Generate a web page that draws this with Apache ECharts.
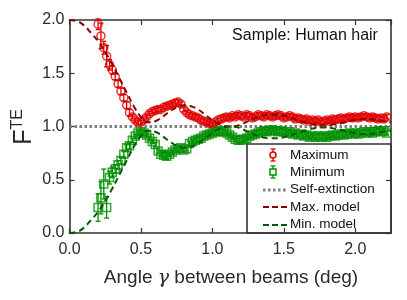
<!DOCTYPE html>
<html><head><meta charset="utf-8">
<script src="https://cdn.jsdelivr.net/npm/echarts@6/dist/echarts.min.js"></script>
<style>html,body{margin:0;padding:0;background:#fff}#c{width:407px;height:300px}</style>
</head><body><div id="c"></div>
<script>
const angle = [0.20,0.22,0.24,0.26,0.28,0.30,0.32,0.34,0.36,0.38,0.40,0.42,0.44,0.46,0.48,0.50,0.52,0.54,0.56,0.58,
0.60,0.62,0.64,0.66,0.68,0.70,0.72,0.74,0.76,0.78,0.80,0.82,0.84,0.86,0.88,0.90,0.92,0.94,0.96,0.98,
1.00,1.02,1.04,1.06,1.08,1.10,1.12,1.14,1.16,1.18,1.20,1.22,1.24,1.26,1.28,1.30,1.32,1.34,1.36,1.38,
1.40,1.42,1.44,1.46,1.48,1.50,1.52,1.54,1.56,1.58,1.60,1.62,1.64,1.66,1.68,1.70,1.72,1.74,1.76,1.78,
1.80,1.82,1.84,1.86,1.88,1.90,1.92,1.94,1.96,1.98,2.00,2.02,2.04,2.06,2.08,2.10,2.12,2.14,2.16,2.18,2.20,2.22];
const maxY = [1.96,1.85,1.74,1.66,1.58,1.53,1.47,1.40,1.33,1.27,1.20,1.13,1.09,1.06,1.04,1.04,1.06,1.09,1.12,1.14,
1.15,1.16,1.16,1.18,1.19,1.20,1.21,1.22,1.23,1.21,1.16,1.13,1.11,1.10,1.09,1.08,1.06,1.05,1.04,1.03,
1.02,1.04,1.06,1.07,1.08,1.09,1.08,1.10,1.09,1.11,1.10,1.09,1.11,1.10,1.08,1.09,1.11,1.10,1.09,1.11,
1.10,1.09,1.10,1.11,1.10,1.08,1.09,1.10,1.09,1.07,1.08,1.07,1.06,1.07,1.05,1.06,1.05,1.06,1.04,1.05,
1.06,1.05,1.07,1.06,1.07,1.08,1.07,1.08,1.09,1.08,1.09,1.08,1.09,1.10,1.09,1.08,1.09,1.08,1.07,1.08,1.07,1.09];
const maxErr = [0.05,0.12,0.06,0.10,0.05,0.04,0.03,0.03,0.03,0.03,0.03,0.03,0.02,0.02,0.02,0.02,0.02,0.02,0.02,0.02,
0.02,0.02,0.02,0.02,0.02,0.02,0.02,0.03,0.02,0.02,0.02,0.02,0.02,0.02,0.02,0.02,0.02,0.02,0.02,0.02,
0.02,0.02,0.02,0.02,0.02,0.02,0.02,0.02,0.02,0.02,0.02,0.02,0.02,0.02,0.02,0.02,0.02,0.02,0.02,0.02,
0.02,0.02,0.02,0.02,0.02,0.02,0.02,0.02,0.02,0.02,0.02,0.02,0.02,0.02,0.02,0.02,0.02,0.02,0.02,0.02,
0.02,0.02,0.02,0.02,0.02,0.02,0.02,0.02,0.02,0.02,0.02,0.02,0.02,0.02,0.02,0.02,0.02,0.02,0.02,0.02,0.02,0.02];
const minY = [0.24,0.33,0.46,0.24,0.52,0.57,0.60,0.64,0.68,0.74,0.80,0.82,0.87,0.91,0.94,0.95,0.94,0.92,0.89,0.86,
0.83,0.77,0.74,0.73,0.72,0.74,0.76,0.78,0.79,0.80,0.78,0.79,0.84,0.86,0.87,0.88,0.89,0.91,0.92,0.93,
0.94,0.95,0.95,0.96,0.95,0.94,0.92,0.90,0.88,0.87,0.87,0.88,0.89,0.91,0.92,0.93,0.94,0.95,0.96,0.95,
0.96,0.97,0.96,0.95,0.96,0.95,0.94,0.95,0.93,0.94,0.92,0.93,0.91,0.92,0.90,0.91,0.90,0.91,0.90,0.91,
0.90,0.91,0.92,0.91,0.92,0.93,0.92,0.93,0.94,0.93,0.94,0.93,0.94,0.95,0.94,0.95,0.94,0.95,0.96,0.95,0.96,0.94];
const minErr = [0.13,0.15,0.14,0.10,0.06,0.05,0.04,0.04,0.03,0.03,0.03,0.03,0.02,0.02,0.02,0.02,0.02,0.02,0.02,0.02,
0.02,0.02,0.02,0.02,0.03,0.02,0.02,0.02,0.02,0.02,0.02,0.02,0.02,0.02,0.02,0.02,0.02,0.02,0.02,0.02,
0.02,0.02,0.02,0.02,0.02,0.02,0.02,0.02,0.02,0.02,0.02,0.02,0.02,0.02,0.02,0.02,0.02,0.02,0.02,0.02,
0.02,0.02,0.02,0.02,0.02,0.02,0.02,0.02,0.02,0.02,0.02,0.02,0.02,0.02,0.02,0.02,0.02,0.02,0.02,0.02,
0.02,0.02,0.02,0.02,0.02,0.02,0.02,0.02,0.02,0.02,0.02,0.02,0.02,0.02,0.02,0.02,0.02,0.02,0.02,0.02,0.02,0.02];
const modelX = [0,0.05,0.10,0.15,0.20,0.25,0.30,0.35,0.40,0.45,0.50,0.55,0.60,0.65,0.70,0.75,0.80,0.85,0.90,0.95,
1.00,1.05,1.10,1.15,1.20,1.25,1.30,1.35,1.40,1.45,1.50,1.55,1.60,1.65,1.70,1.75,1.80,1.85,1.90,1.95,2.00,2.05,2.10,2.15,2.20,2.25];
const maxModel = [2.00,1.99,1.95,1.88,1.80,1.70,1.58,1.45,1.32,1.19,1.09,1.04,1.05,1.09,1.14,1.18,1.20,1.19,1.16,1.11,
1.06,1.02,1.00,1.00,1.02,1.05,1.08,1.10,1.11,1.11,1.10,1.08,1.06,1.04,1.02,1.01,1.01,1.02,1.03,1.05,1.06,1.07,1.07,1.06,1.05,1.04];
const minModel = [0.00,0.01,0.05,0.12,0.20,0.30,0.42,0.55,0.68,0.81,0.91,0.96,0.95,0.91,0.86,0.82,0.80,0.81,0.84,0.89,
0.94,0.98,1.00,1.00,0.98,0.95,0.92,0.90,0.89,0.89,0.90,0.92,0.94,0.96,0.98,0.99,0.99,0.98,0.97,0.95,0.94,0.93,0.93,0.94,0.95,0.96];
const selfExt = [[0,1],[2.25,1]];
const xTicks = [0.0,0.5,1.0,1.5,2.0];
const yTicks = [0.0,0.5,1.0,1.5,2.0];

const RED = '#e00000', GREEN = '#009000', DRED = '#8c0000', DGREEN = '#005a00', GRAY = '#808080';
const zip = (xs, ys, es) => xs.map((x, i) => es ? [x, ys[i], es[i]] : [x, ys[i]]);

function errRender(color) {
  return function (params, api) {
    const x = api.value(0), y = api.value(1), e = api.value(2);
    const t = api.coord([x, y + e]), b = api.coord([x, y - e]);
    const c = 2.5;
    const st = { stroke: color, lineWidth: 1.3 };
    return { type: 'group', children: [
      { type: 'line', shape: { x1: t[0], y1: t[1], x2: b[0], y2: b[1] }, style: st },
      { type: 'line', shape: { x1: t[0] - c, y1: t[1], x2: t[0] + c, y2: t[1] }, style: st },
      { type: 'line', shape: { x1: b[0] - c, y1: b[1], x2: b[0] + c, y2: b[1] }, style: st }
    ]};
  };
}

const FONT = 'Liberation Sans, Arial, sans-serif';
const axisCommon = {
  type: 'value', splitLine: { show: false },
  axisLine: { show: true, onZero: false, lineStyle: { color: '#333', width: 1.6 } },
  axisTick: { show: true, inside: true, length: 5, lineStyle: { color: '#333', width: 1.2 } }
};
const fmt = v => (Math.abs(v * 2 - Math.round(v * 2)) < 1e-6 ? v.toFixed(1) : '');

const chart = echarts.init(document.getElementById('c'), null, { renderer: 'canvas' });
chart.setOption({
  animation: false,
  grid: { left: 69.5, right: 16, top: 20, bottom: 67 },
  xAxis: [
    Object.assign({}, axisCommon, { min: 0, max: 2.25, interval: 0.5, position: 'bottom',
      axisLabel: { formatter: fmt, color: '#2a2a2a', fontSize: 16, fontFamily: FONT, margin: 9, showMaxLabel: false } }),
    Object.assign({}, axisCommon, { min: 0, max: 2.25, interval: 0.5, position: 'top', axisLabel: { show: false } })
  ],
  yAxis: [
    Object.assign({}, axisCommon, { min: 0, max: 2, interval: 0.5, position: 'left',
      axisLabel: { formatter: v => v.toFixed(1), color: '#2a2a2a', fontSize: 16, fontFamily: FONT, margin: 5 } }),
    Object.assign({}, axisCommon, { min: 0, max: 2, interval: 0.5, position: 'right', axisLabel: { show: false } })
  ],
  series: [
    { type: 'line', data: selfExt, symbol: 'none', lineStyle: { color: GRAY, width: 2.8, type: [2.6, 2.4], cap: 'butt' }, z: 1 },
    { type: 'line', data: zip(modelX, maxModel), symbol: 'none', smooth: true, lineStyle: { color: DRED, width: 2, type: [6, 4] }, z: 4 },
    { type: 'line', data: zip(modelX, minModel), symbol: 'none', smooth: true, lineStyle: { color: DGREEN, width: 2, type: [6, 4] }, z: 4 },
    { type: 'custom', data: zip(angle, maxY, maxErr), renderItem: errRender(RED), z: 2 },
    { type: 'custom', data: zip(angle, minY, minErr), renderItem: errRender(GREEN), z: 2 },
    { type: 'scatter', data: zip(angle, maxY), symbol: 'circle', symbolSize: 8,
      itemStyle: { color: 'rgba(0,0,0,0)', borderColor: RED, borderWidth: 1.5 }, z: 3 },
    { type: 'scatter', data: zip(angle, minY), symbol: 'rect', symbolSize: 8,
      itemStyle: { color: 'rgba(0,0,0,0)', borderColor: GREEN, borderWidth: 1.5 }, z: 3 }
  ],
  graphic: [
    { type: 'text', x: 305, y: 36, style: { text: 'Sample: Human hair', font: '16px ' + FONT, fill: '#111', align: 'center', verticalAlign: 'middle' } },
    { type: 'text', x: 231, y: 278, style: { text: 'Angle {g|γ} between beams (deg)', font: '19px ' + FONT, fill: '#2a2a2a', align: 'center', verticalAlign: 'middle',
        rich: { g: { fontStyle: 'italic', fontSize: 19, fontFamily: 'DejaVu Serif' } } } },
    { type: 'text', x: 24, y: 127, rotation: Math.PI / 2, style: { text: '{f|F}{s|TE}', fill: '#2a2a2a', align: 'center', verticalAlign: 'middle',
        rich: { f: { fontSize: 25, fontFamily: FONT, fill: '#2a2a2a' }, s: { fontSize: 16, fontFamily: FONT, fill: '#2a2a2a', padding: [0, 0, 12, 0] } } } },
    { type: 'group', z: 10, children: [
      { type: 'rect', shape: { x: 247, y: 144, width: 144, height: 89 }, style: { fill: '#fff', stroke: '#333', lineWidth: 1.6 } },
      { type: 'line', shape: { x1: 273, y1: 149, x2: 273, y2: 161 }, style: { stroke: RED, lineWidth: 1.3 } },
      { type: 'line', shape: { x1: 270.5, y1: 149, x2: 275.5, y2: 149 }, style: { stroke: RED, lineWidth: 1.3 } },
      { type: 'line', shape: { x1: 270.5, y1: 161, x2: 275.5, y2: 161 }, style: { stroke: RED, lineWidth: 1.3 } },
      { type: 'circle', shape: { cx: 273, cy: 155, r: 3 }, style: { fill: '#fff', stroke: RED, lineWidth: 1.5 } },
      { type: 'text', x: 290, y: 155, style: { text: 'Maximum', font: '13.5px ' + FONT, fill: '#111', verticalAlign: 'middle' } },
      { type: 'line', shape: { x1: 273, y1: 166, x2: 273, y2: 178 }, style: { stroke: GREEN, lineWidth: 1.3 } },
      { type: 'line', shape: { x1: 270.5, y1: 166, x2: 275.5, y2: 166 }, style: { stroke: GREEN, lineWidth: 1.3 } },
      { type: 'line', shape: { x1: 270.5, y1: 178, x2: 275.5, y2: 178 }, style: { stroke: GREEN, lineWidth: 1.3 } },
      { type: 'rect', shape: { x: 270, y: 169, width: 6, height: 6 }, style: { fill: '#fff', stroke: GREEN, lineWidth: 1.5 } },
      { type: 'text', x: 290, y: 172, style: { text: 'Minimum', font: '13.5px ' + FONT, fill: '#111', verticalAlign: 'middle' } },
      { type: 'line', shape: { x1: 263, y1: 190, x2: 288, y2: 190 }, style: { stroke: GRAY, lineWidth: 2.8, lineDash: [2.6, 2.4] } },
      { type: 'text', x: 290, y: 189.5, style: { text: 'Self-extinction', font: '13.5px ' + FONT, fill: '#111', verticalAlign: 'middle' } },
      { type: 'line', shape: { x1: 263, y1: 207, x2: 289, y2: 207 }, style: { stroke: DRED, lineWidth: 2, lineDash: [6, 3] } },
      { type: 'text', x: 290, y: 207, style: { text: 'Max. model', font: '13.5px ' + FONT, fill: '#111', verticalAlign: 'middle' } },
      { type: 'line', shape: { x1: 263, y1: 225, x2: 289, y2: 225 }, style: { stroke: DGREEN, lineWidth: 2, lineDash: [6, 3] } },
      { type: 'text', x: 290, y: 224.5, style: { text: 'Min. model', font: '13.5px ' + FONT, fill: '#111', verticalAlign: 'middle' } }
    ]}
  ]
});
</script></body></html>
